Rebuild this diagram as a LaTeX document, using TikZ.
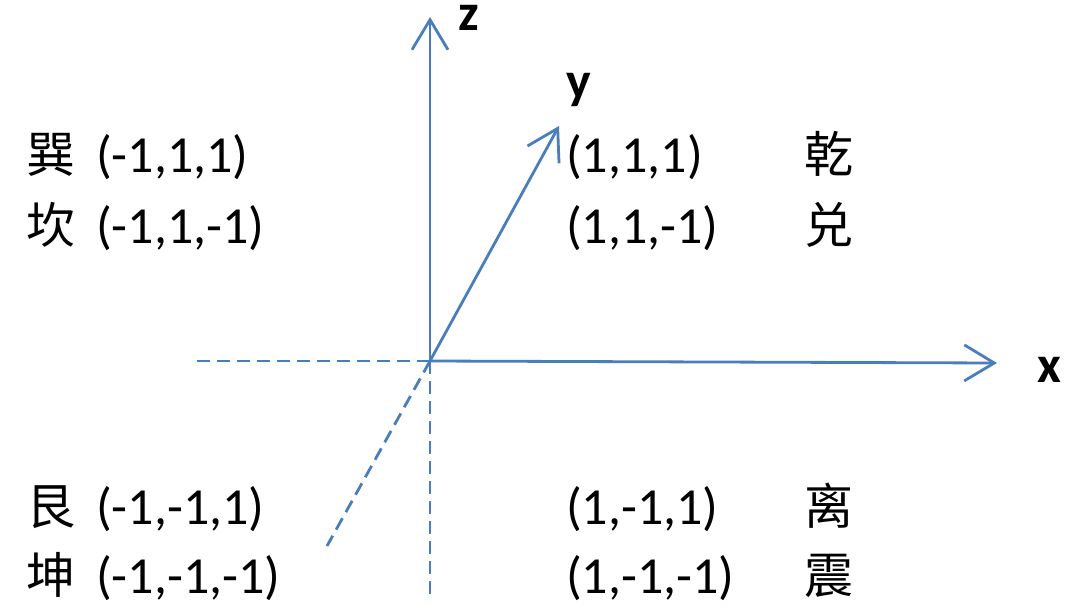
\documentclass[tikz,border=0pt]{standalone}
\usepackage{fontspec}
\setmainfont{Carlito}
\newfontfamily\cjk{Noto Sans CJK SC}
\usetikzlibrary{arrows.meta}

\definecolor{axisblue}{HTML}{4A7EBB}

\tikzset{
  axis/.style={draw=axisblue, line width=2.8pt,
    -{Straight Barb[length=30pt,width=36pt,line width=2.8pt]}},
  negaxis/.style={draw=axisblue, line width=2.8pt, dash pattern=on 13pt off 7pt},
  coord/.style={anchor=base west, inner sep=0pt, font=\fontsize{52}{60}\selectfont},
  gua/.style={anchor=base west, inner sep=0pt, font=\fontsize{49}{60}\selectfont\cjk},
  axlabel/.style={inner sep=0pt, font=\fontsize{52}{60}\selectfont\bfseries}
}

\begin{document}
\begin{tikzpicture}[x=1pt,y=-1pt]
  \useasboundingbox (0,0) rectangle (1075,605);

  \coordinate (O) at (430,361);
  \coordinate (Z) at (430,17);
  \coordinate (Y) at (559,126);
  \coordinate (X) at (997,363);
  \coordinate (nX) at (190,361);
  \coordinate (nZ) at (430,595);
  \coordinate (nY) at (327,546);

  % axes
  \draw[axis] (O) -- (Z);
  \draw[axis] (O) -- (Y);
  \draw[axis] (O) -- (X);
  \draw[negaxis] (O) -- (nX);
  \draw[negaxis] (O) -- (nZ);
  \draw[negaxis] (O) -- (nY);

  \node[axlabel] (zlab) at (469,18) {z};
  \node[axlabel] (ylab) at (579,90) {y};
  \node[axlabel] (xlab) at (1049,370) {x};

  % left column
  \node[gua] (xun) at (26,172) {巽};
  \node[coord] (xunc) at (96,172) {(-1,1,1)};
  \node[gua] (kan) at (26,243) {坎};
  \node[coord] (kanc) at (96,243) {(-1,1,-1)};
  \node[gua] (gen) at (26,524) {艮};
  \node[coord] (genc) at (96,524) {(-1,-1,1)};
  \node[gua] (kun) at (26,593) {坤};
  \node[coord] (kunc) at (96,593) {(-1,-1,-1)};

  % right column
  \node[coord] (qianc) at (566,172) {(1,1,1)};
  \node[gua] (qian) at (804,172) {乾};
  \node[coord] (duic) at (566,243) {(1,1,-1)};
  \node[gua] (dui) at (804,243) {兑};
  \node[coord] (lic) at (566,524) {(1,-1,1)};
  \node[gua] (li) at (804,524) {离};
  \node[coord] (zhenc) at (566,593) {(1,-1,-1)};
  \node[gua] (zhen) at (804,593) {震};
\end{tikzpicture}
\end{document}
